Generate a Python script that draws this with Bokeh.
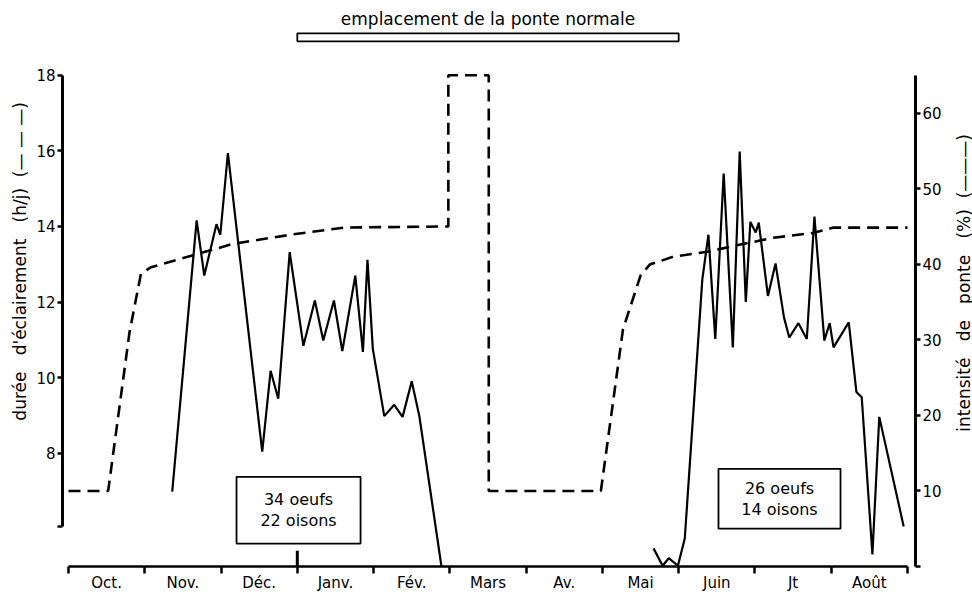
import math
from bokeh.plotting import figure
from bokeh.layouts import row
from bokeh.models import Range1d, LinearAxis, FixedTicker, Label
from bokeh.embed import file_html
from bokeh.resources import INLINE

FONT = "DejaVu Sans"
NB = "\u00a0"

# ---------------- data ----------------
months = ["Oct.", "Nov.", "Déc.", "Janv.", "Fév.", "Mars", "Av.", "Mai", "Juin", "Jt", "Août"]

# durée d'éclairement (h/j); x = months since 1 Oct
light_x = [0.0, 0.52, 0.80, 0.95, 1.08, 2.16, 2.91, 3.61, 4.98, 4.98, 5.51, 5.51, 6.98,
           7.27, 7.50, 7.62, 7.93, 8.38, 8.81, 9.24, 9.77, 10.03, 11.0]
light_h = [7.0, 7.0, 11.2, 12.75, 12.92, 13.54, 13.78, 13.97, 14.0, 18.0, 18.0, 7.0, 7.0,
           11.28, 12.7, 12.99, 13.2, 13.33, 13.52, 13.7, 13.83, 13.97, 13.97]

# intensité de ponte (%), first laying period
lay1_x = [1.36, 1.68, 1.78, 1.94, 1.99, 2.09, 2.54, 2.65, 2.75, 2.90, 3.08, 3.23,
          3.34, 3.48, 3.59, 3.76, 3.86, 3.92, 3.99, 4.14, 4.27, 4.38, 4.50, 4.60, 4.89]
lay1_pct = [9.9, 45.8, 38.5, 45.3, 43.9, 54.7, 15.2, 25.9, 22.2, 41.6, 29.2, 35.2,
            29.9, 35.2, 28.5, 38.5, 28.4, 40.6, 28.8, 19.9, 21.4, 19.8, 24.5, 19.9, 0.0]

# intensité de ponte (%), second laying period
lay2_x = [7.67, 7.79, 7.87, 7.99, 8.08, 8.31, 8.39, 8.48, 8.59, 8.71, 8.80, 8.88,
          8.94, 9.01, 9.05, 9.17, 9.27, 9.38, 9.45, 9.57, 9.68, 9.78, 9.91, 9.98,
          10.03, 10.23, 10.33, 10.40, 10.54, 10.63, 10.95]
lay2_pct = [2.4, 0.1, 1.1, 0.1, 3.7, 38.0, 43.9, 30.1, 52.0, 29.0, 54.9, 35.0,
            45.6, 44.2, 45.5, 35.8, 40.1, 33.0, 30.3, 32.2, 30.1, 46.3, 29.9, 32.2,
            29.0, 32.3, 23.1, 22.4, 1.6, 19.8, 5.3]

left_ticks = [8, 10, 12, 14, 16, 18]
right_ticks = [10, 20, 30, 40, 50, 60]

left_title = f"durée{NB}{NB}{NB}d'éclairement{NB}{NB}{NB}(h/j){NB}{NB}(—{NB}—{NB}—)"
right_title = f"intensité{NB}{NB}{NB}de{NB}{NB}{NB}ponte{NB}{NB}{NB}(%){NB}{NB}(———)"
box_texts = ["34 oeufs\n22 oisons", "26 oeufs\n14 oisons"]
normal_laying = (3, 8)      # Janv. -> Juin
year_start = 3              # 1 Janv.

# ---------------- layout sizes ----------------
H = 594
LW, MW, RW = 30, 920, 22      # left title strip, main chart, right title strip
PX_PER_H = 37.92
y_top = 5 + 558 / PX_PER_H


def strip(width, text, cx, cy):
    f = figure(width=width, height=H, output_backend="svg", toolbar_location=None,
               x_range=Range1d(0, width), y_range=Range1d(0, H), min_border=0,
               x_axis_location=None, y_axis_location=None)
    f.xgrid.visible = False
    f.ygrid.visible = False
    f.outline_line_color = None
    f.add_layout(Label(x=cx, y=H - cy, text=text, angle=math.pi / 2, text_align="center",
                       text_baseline="middle", text_font=FONT, text_font_size="17px",
                       text_color="black"))
    return f


p = figure(width=MW, height=H, output_backend="svg", toolbar_location=None,
           x_range=Range1d(-0.0787, 11.105), y_range=Range1d(5, y_top),
           x_axis_location=None, y_axis_location=None,
           min_border_left=32, min_border_right=35, min_border_top=10, min_border_bottom=26)
p.extra_y_ranges = {"pct": Range1d(0, (y_top - 5) * 5)}
p.xgrid.visible = False
p.ygrid.visible = False
p.outline_line_color = None
p.background_fill_color = "white"
p.border_fill_color = "white"


def style_axis(ax):
    ax.axis_line_width = 3
    ax.axis_line_color = "black"
    ax.major_tick_line_width = 2.5
    ax.minor_tick_line_width = 2.5
    ax.major_label_text_font = FONT
    ax.major_label_text_font_size = "15px"
    ax.major_label_text_color = "black"


# left axis (hours)
la = LinearAxis(ticker=FixedTicker(ticks=[6.05] + left_ticks), bounds=(6.05, 18),
                major_label_overrides={6.05: ""})
style_axis(la)
la.major_tick_out = 5
la.major_tick_in = 0
la.minor_tick_out = 0
la.major_label_standoff = 2
p.add_layout(la, "left")

# right axis (%)
ra = LinearAxis(y_range_name="pct", ticker=FixedTicker(ticks=[0] + right_ticks),
                bounds=(0, 65), major_label_overrides={0: ""})
style_axis(ra)
ra.major_tick_out = 5
ra.major_tick_in = 0
ra.minor_tick_out = 0
ra.major_label_standoff = 2
p.add_layout(ra, "right")

# bottom (months) axis
mid = [i + 0.5 for i in range(len(months))]
ba = LinearAxis(ticker=FixedTicker(ticks=mid, minor_ticks=list(range(len(months) + 1))),
                bounds=(0, len(months)),
                major_label_overrides={m: name for m, name in zip(mid, months)})
style_axis(ba)
ba.axis_line_width = 2.5
ba.major_tick_out = 0
ba.major_tick_in = 0
ba.minor_tick_out = 7
ba.minor_tick_in = 0
ba.major_label_standoff = 0
p.add_layout(ba, "below")

# year boundary mark
p.segment(x0=[year_start], y0=[5], x1=[year_start], y1=[5.42], line_width=3, color="black")

# curves
p.line(light_x, light_h, line_dash="12 7", line_width=2.6, color="black")
p.line(lay1_x, lay1_pct, y_range_name="pct", line_width=2.2, color="black")
p.line(lay2_x, lay2_pct, y_range_name="pct", line_width=2.2, color="black")

# top bar: normal laying period
p.quad(left=[normal_laying[0]], right=[normal_laying[1]], bottom=[18.90], top=[19.11],
       fill_color="white", line_color="black", line_width=1.8)
p.add_layout(Label(x=sum(normal_laying) / 2, y=19.5, text="emplacement de la ponte normale",
                   text_align="center", text_baseline="middle", text_font=FONT,
                   text_font_size="17px", text_color="black"))

# boxes
boxes = [(2.203, 3.829, 5.607, 7.373), (8.522, 10.122, 6.002, 7.584)]
for (l, r, b, t), txt in zip(boxes, box_texts):
    p.quad(left=[l], right=[r], bottom=[b], top=[t], fill_color="white",
           line_color="black", line_width=1.8)
    p.add_layout(Label(x=(l + r) / 2, y=(b + t) / 2, text=txt, text_align="center",
                       text_baseline="middle", text_font=FONT, text_font_size="16px",
                       text_color="black", text_line_height=1.1))

left_strip = strip(LW, left_title, 19, 268)
right_strip = strip(RW, right_title, 13, 291)

layout = row(left_strip, p, right_strip, spacing=0)
open("out.html", "w").write(file_html(layout, INLINE))
